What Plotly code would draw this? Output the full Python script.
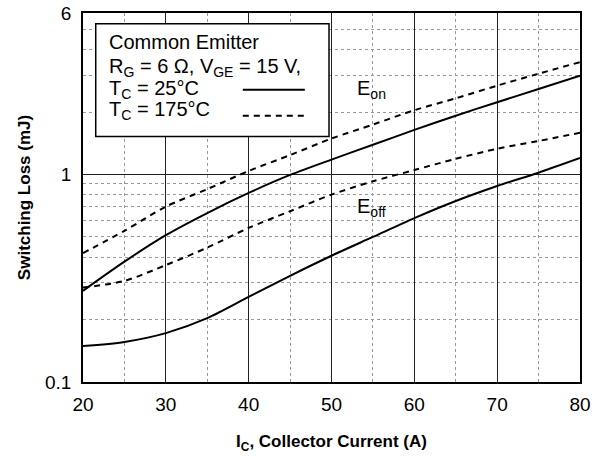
import plotly.graph_objects as go

# Collector current (A)
ic = [20, 25, 30, 35, 40, 45, 50, 55, 60, 65, 70, 75, 80]
# Switching losses (mJ)
eon_25 = [0.275, 0.38, 0.51, 0.652, 0.815, 0.995, 1.18, 1.39, 1.64, 1.92, 2.23, 2.58, 2.99]
eon_175 = [0.418, 0.535, 0.70, 0.85, 1.04, 1.24, 1.49, 1.74, 2.04, 2.33, 2.68, 3.06, 3.48]
eoff_25 = [0.149, 0.156, 0.172, 0.203, 0.257, 0.325, 0.406, 0.50, 0.616, 0.745, 0.88, 1.02, 1.20]
eoff_175 = [0.285, 0.307, 0.366, 0.444, 0.553, 0.665, 0.80, 0.927, 1.05, 1.19, 1.33, 1.45, 1.59]

x_ticks = [20, 30, 40, 50, 60, 70, 80]
x_minor = [25, 35, 45, 55, 65, 75]
y_ticks = [0.1, 1, 6]
y_tick_text = ["0.1", "1", "6"]
y_minor = [0.2, 0.3, 0.4, 0.5, 0.6, 0.7, 0.8, 0.9, 2, 3, 4, 5]

FONT = "Liberation Sans, Arial, Helvetica, sans-serif"
SOLID = dict(color="black", width=2)
DASH = dict(color="black", width=2, dash="6px,5px")

fig = go.Figure()
for y, ln in [(eon_25, SOLID), (eon_175, DASH), (eoff_25, SOLID), (eoff_175, DASH)]:
    fig.add_trace(go.Scatter(x=ic, y=y, mode="lines", line=dict(shape="spline", smoothing=0.8, **ln),
                             showlegend=False, hoverinfo="skip"))

fig.update_layout(
    width=606, height=459,
    margin=dict(l=83, r=26, t=13, b=77),
    paper_bgcolor="white", plot_bgcolor="white",
    font=dict(family=FONT, size=19, color="black"),
    xaxis=dict(
        range=[20, 80], tickmode="array", tickvals=x_ticks, ticks="", automargin=False,
        showline=True, linecolor="black", linewidth=1.5, mirror=True,
        showgrid=True, gridcolor="#222", gridwidth=1,
        minor=dict(tickmode="array", tickvals=x_minor, showgrid=True, gridcolor="#999",
                   griddash="dot", gridwidth=1, ticks=""),
        zeroline=False, ticklabelstandoff=4,
        title=dict(text="<b>I<sub>C</sub>, Collector Current (A)</b>", font=dict(size=17), standoff=22),
    ),
    yaxis=dict(
        type="log", range=[-1, 0.77816], tickmode="array", tickvals=y_ticks, ticktext=y_tick_text,
        ticks="", showline=True, linecolor="black", linewidth=1.5, mirror=True, automargin=False,
        showgrid=True, gridcolor="#222", gridwidth=1,
        minor=dict(tickmode="array", tickvals=y_minor, showgrid=True, gridcolor="#999",
                   griddash="dot", gridwidth=1, ticks=""),
        zeroline=False, ticklabelstandoff=6,
        title=dict(text="<b>Switching Loss (mJ)</b>", font=dict(size=17), standoff=10),
    ),
)

# curve labels
fig.add_annotation(x=54.8, y=0.408, yref="y", text="E<sub>on</sub>", showarrow=False, font=dict(size=20))
fig.add_annotation(x=54.8, y=-0.16, yref="y", text="E<sub>off</sub>", showarrow=False, font=dict(size=20))

# legend box (positions in paper fractions of the plot area)
fig.add_shape(type="rect", xref="paper", yref="paper", x0=0.0256, x1=0.495, y0=0.6656, y1=0.971,
              line=dict(color="black", width=1.5), fillcolor="white", layer="above")
lines = [
    ("Common Emitter", 42.7),
    ("R<sub>G</sub> = 6 Ω, V<sub>GE</sub> = 15 V,", 68),
    ("T<sub>C</sub> = 25°C", 90),
    ("T<sub>C</sub> = 175°C", 111),
]
def py(p):
    return (382.3 - p) / 369.0
def px(p):
    return (p - 83.3) / 496.7
for txt, ypix in lines:
    fig.add_annotation(xref="paper", yref="paper", x=px(107), y=py(ypix), xanchor="left", yanchor="middle",
                       text=txt, showarrow=False, font=dict(size=20))
fig.add_shape(type="line", xref="paper", yref="paper", x0=px(243), x1=px(305), y0=py(90), y1=py(90),
              line=SOLID, layer="above")
fig.add_shape(type="line", xref="paper", yref="paper", x0=px(243), x1=px(305), y0=py(116), y1=py(116),
              line=DASH, layer="above")

fig.write_html("out.html", config={"displayModeBar": False},
               post_script="document.body.style.margin='0';")
